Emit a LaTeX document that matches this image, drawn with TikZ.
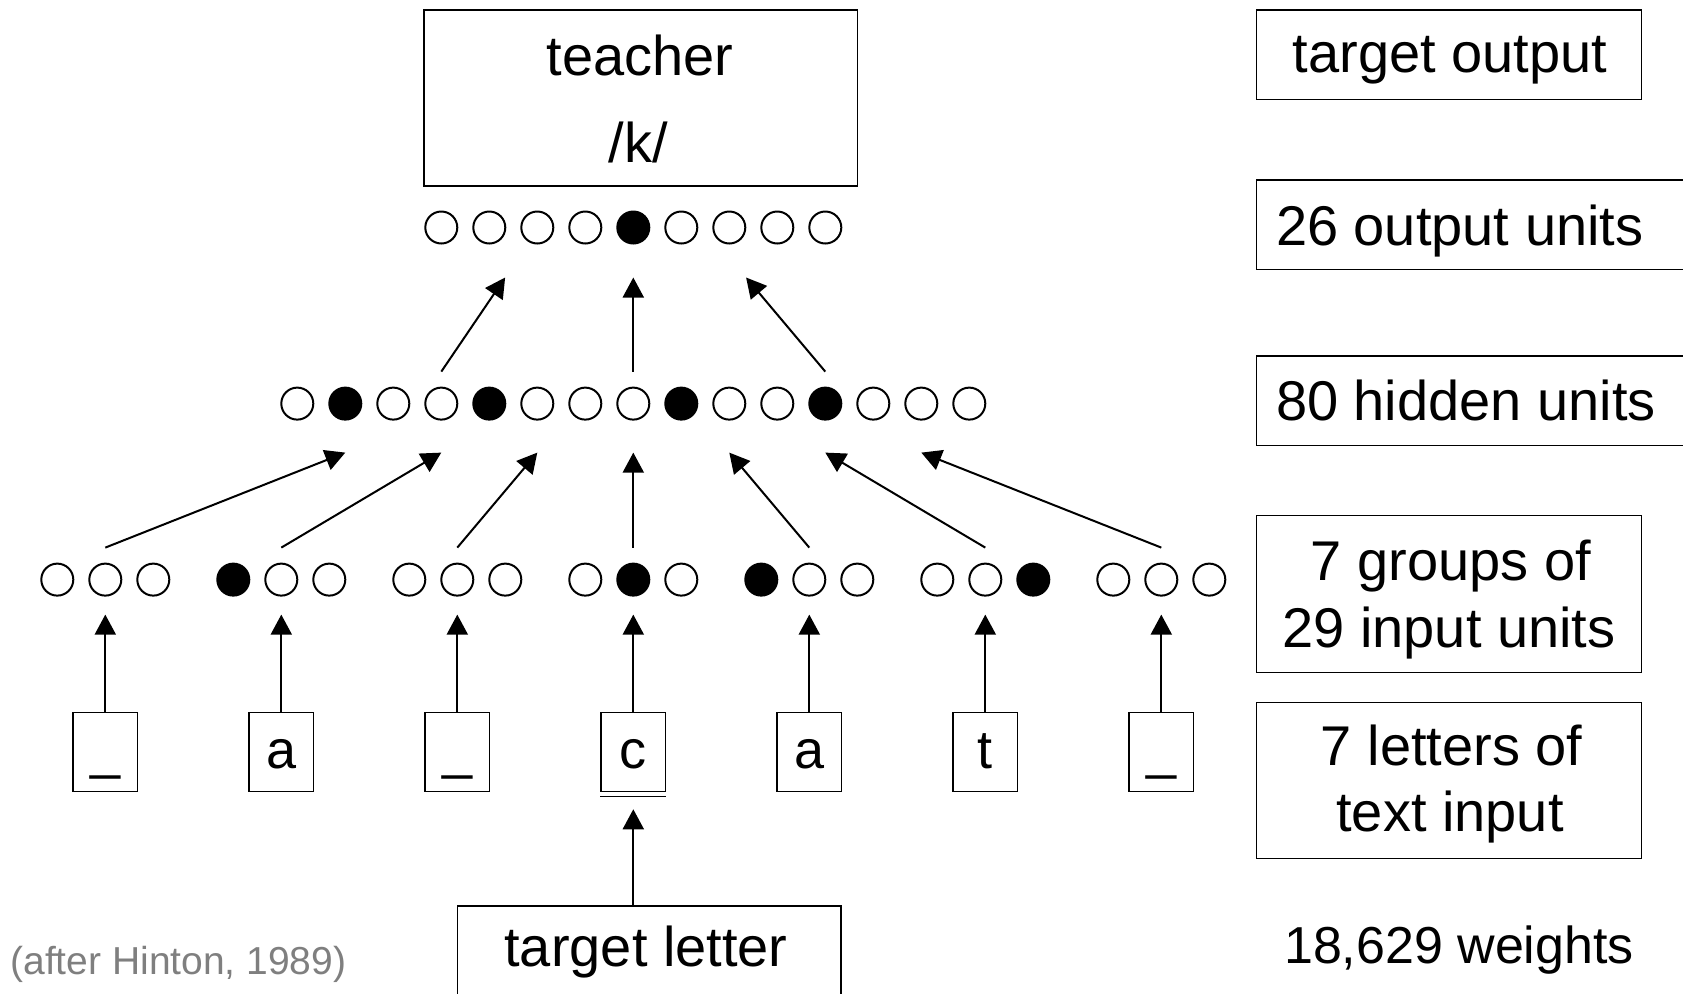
\documentclass[tikz,border=0pt]{standalone}
\usepackage{fontspec}
\setmainfont{Liberation Sans}
\usetikzlibrary{arrows.meta,calc}
\definecolor{notegray}{HTML}{7F7F7F}
\begin{document}
\begin{tikzpicture}[x=0.5pt,y=-0.5pt,
  unit/.style={circle,draw,line width=1pt,minimum size=16pt,inner sep=0pt},
  frame/.style={draw,line width=0.75pt,rectangle,inner sep=0pt},
  letterbox/.style={frame,minimum width=32.3pt,minimum height=39.5pt,
    text height=16pt,text depth=0pt,font=\fontsize{27}{32}\selectfont},
  labelbox/.style={frame,minimum width=192.5pt},
  widebox/.style={frame,minimum width=231.65pt,minimum height=44.65pt},
  txt/.style={inner sep=0pt,font=\fontsize{28}{33.5}\selectfont},
  arr/.style={line width=1pt,-{Triangle[length=10pt,width=10.5pt]}}
]
\useasboundingbox (0,0) rectangle (1683,993);

% ---- output layer (26 units, 9 shown) ----
\foreach \i/\c in {1/white,2/white,3/white,4/white,5/black,6/white,7/white,8/white,9/white}
  \node[unit,fill=\c] (o\i) at ({633.3+48*(\i-5)},227.5) {};

% ---- hidden layer (80 units, 15 shown) ----
\foreach \i/\c in {1/white,2/black,3/white,4/white,5/black,6/white,7/white,8/white,
                   9/black,10/white,11/white,12/black,13/white,14/white,15/white}
  \node[unit,fill=\c] (h\i) at ({633.3+48*(\i-8)},403.6) {};

% ---- input layer: 7 groups, active unit index per group ----
\foreach \g/\f in {1/0,2/1,3/0,4/2,5/1,6/3,7/0}
  \foreach \k in {1,2,3} {
    \ifnum\k=\f\relax\def\col{black}\else\def\col{white}\fi
    \node[unit,fill=\col] (i\g-\k) at ({633.3+176*(\g-4)+48*(\k-2)},579.6) {};
  }

% ---- letter window ----
\foreach \g/\t in {1/\_,2/a,3/\_,4/c,5/a,6/t,7/\_}
  \node[letterbox] (L\g) at ({633.3+176*(\g-4)},752) {\t};
\draw[line width=0.75pt] ([yshift=-2pt]L4.south west) -- ([yshift=-2pt]L4.south east);

% ---- teacher and target letter ----
\node[frame,minimum width=216.65pt,minimum height=88pt] (teacher) at (640.7,98) {};
\node[txt,anchor=base] (teachertxt) at (640,75) {teacher};
\node[txt,anchor=base] (phon) at (638.3,162) {/k/};

\node[frame,minimum width=191.85pt,minimum height=54pt] (tl) at (649.2,960) {};
\node[txt,anchor=base] (tltxt) at (646,966.7) {target letter};

% ---- connections ----
\foreach \g in {1,...,7}
  \draw[arr] (L\g.north) -- ([shift={(0,18)}]i\g-2.south);

\foreach \g [evaluate=\g as \h using int(2*\g)] in {1,...,7}
  \draw[arr] ([shift={(0,-15)}]i\g-2.north) -- ([shift={(0,32)}]h\h.south);

\coordinate (tipL) at ($(o2.south)!0.33!(o3.south)+(0,33)$);
\coordinate (tipR) at ($(o7.south)!0.35!(o8.south)+(0,33)$);
\draw[arr] ([shift={(0,-15)}]h4.north) -- (tipL);
\draw[arr] ([shift={(0,-15)}]h8.north) -- ([shift={(0,33)}]o5.south);
\draw[arr] ([shift={(0,-15)}]h12.north) -- (tipR);

\draw[arr] (L4.south |- tl.north) -- ([shift={(0,17)}]L4.south);

% ---- right-hand legend ----
\node[labelbox,minimum height=44.65pt] (lout) at (1449.2,54.7) {};
\node[txt,anchor=base] (louttxt) at (1450,72.7) {target output};

\node[widebox] (lunits) at (1488.35,224.7) {};
\node[txt,anchor=base west] (lunitstxt) at (1275.6,245) {26 output units};

\node[widebox] (lhid) at (1488.35,400.7) {};
\node[txt,anchor=base west] (lhidtxt) at (1275.6,420.7) {80 hidden units};

\node[labelbox,minimum height=78.3pt] (lin) at (1449.2,594) {};
\node[txt,anchor=base] (lintxtA) at (1451,580) {7 groups of};
\node[txt,anchor=base] (lintxtB) at (1449,647) {29 input units};

\node[labelbox,minimum height=78pt] (llet) at (1449.2,780.3) {};
\node[txt,anchor=base] (llettxtA) at (1451.7,765.5) {7 letters of};
\node[txt,anchor=base] (llettxtB) at (1450,831.7) {text input};

\node[inner sep=0pt,anchor=base,font=\fontsize{26}{31}\selectfont] (wts) at (1459,963) {18,629 weights};

\node[inner sep=0pt,anchor=base west,text=notegray,font=\fontsize{19.5}{23}\selectfont] (cite) at (10,974) {(after Hinton, 1989)};
\end{tikzpicture}
\end{document}
